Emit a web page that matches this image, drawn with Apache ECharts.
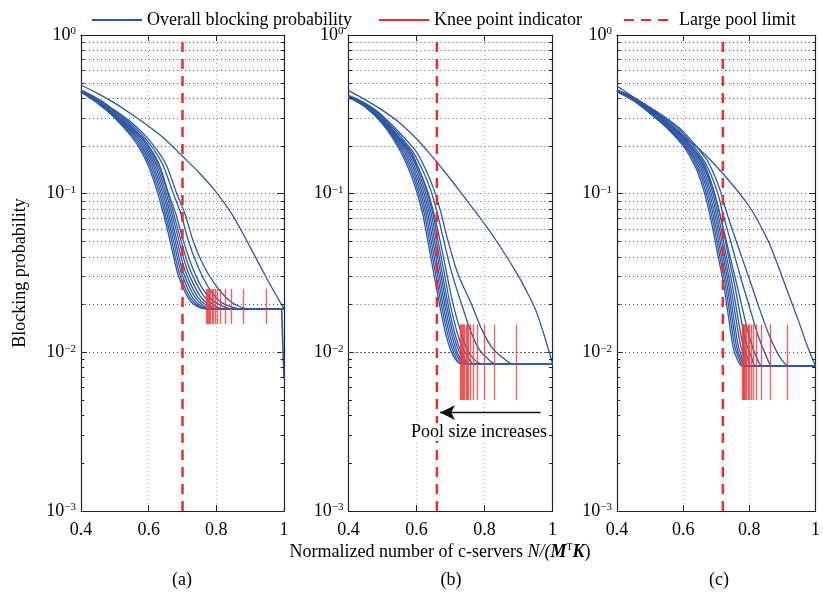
<!DOCTYPE html>
<html><head><meta charset="utf-8">
<script src="https://cdn.jsdelivr.net/npm/echarts@6/dist/echarts.min.js"></script>
<style>html,body{margin:0;padding:0;background:#fff}#c{width:823px;height:599px}</style>
</head><body><div id="c"></div>
<script>
// ---------- DATA ----------
const xTickLabels = ['0.4', '0.6', '0.8', '1'];
const yTickVals = [1, 0.1, 0.01, 0.001];
const yTickExp = ['0', '\u22121', '\u22122', '\u22123'];
const minorGridVals = [0.002,0.003,0.004,0.005,0.006,0.007,0.008,0.009,
  0.02,0.03,0.04,0.05,0.06,0.07,0.08,0.09,
  0.2,0.3,0.4,0.5,0.6,0.7,0.8,0.9];
const panelLabels = ['(a)', '(b)', '(c)'];
const poolLimit = [0.70, 0.66, 0.72];

// panel (a) curves: [x, blocking probability]
const curvesA = [
  [[0.4,0.484],[0.45,0.427],[0.5,0.372],[0.55,0.316],[0.6,0.266],[0.65,0.219],[0.7,0.172],[0.75,0.135],[0.8,0.102],[0.85,0.072],[0.9,0.046],[0.95,0.029],[0.975,0.0233],[1.0,0.0188]],
  [[0.4,0.449],[0.45,0.396],[0.5,0.335],[0.55,0.28],[0.6,0.22],[0.65,0.155],[0.683,0.1],[0.707,0.075],[0.732,0.05],[0.76,0.036],[0.795,0.027],[0.83,0.022],[0.86,0.0198],[0.9,0.0188],[1,0.0188]],
  [[0.4,0.447],[0.45,0.393],[0.5,0.33],[0.55,0.272],[0.6,0.21],[0.64,0.155],[0.673,0.1],[0.695,0.075],[0.718,0.05],[0.745,0.035],[0.775,0.026],[0.81,0.021],[0.84,0.0195],[0.87,0.0188],[1,0.0188]],
  [[0.4,0.445],[0.45,0.39],[0.5,0.325],[0.55,0.265],[0.6,0.2],[0.63,0.155],[0.659,0.1],[0.68,0.075],[0.703,0.05],[0.73,0.034],[0.76,0.025],[0.79,0.0212],[0.82,0.0195],[0.845,0.0188],[1,0.0188]],
  [[0.4,0.443],[0.45,0.382],[0.5,0.318],[0.58,0.228],[0.605,0.19],[0.63,0.148],[0.65,0.112],[0.67,0.08],[0.692,0.054],[0.717,0.0355],[0.738,0.028],[0.762,0.0228],[0.787,0.0203],[0.815,0.0188],[1,0.0188]],
  [[0.4,0.442],[0.45,0.38],[0.5,0.315],[0.575,0.228],[0.6,0.19],[0.625,0.148],[0.645,0.112],[0.665,0.08],[0.686,0.054],[0.71,0.035],[0.73,0.0276],[0.752,0.0226],[0.776,0.0201],[0.802,0.0188],[1,0.0188]],
  [[0.4,0.441],[0.45,0.378],[0.5,0.312],[0.57,0.228],[0.595,0.19],[0.62,0.148],[0.64,0.112],[0.66,0.08],[0.68,0.054],[0.704,0.0345],[0.723,0.0272],[0.745,0.0223],[0.767,0.02],[0.792,0.0188],[1,0.0188]],
  [[0.4,0.44],[0.45,0.376],[0.5,0.309],[0.565,0.228],[0.59,0.19],[0.615,0.148],[0.635,0.112],[0.655,0.08],[0.675,0.054],[0.698,0.034],[0.717,0.0268],[0.738,0.0221],[0.759,0.0199],[0.785,0.0188],[1,0.0188]],
  [[0.4,0.439],[0.45,0.374],[0.5,0.306],[0.56,0.228],[0.585,0.19],[0.61,0.148],[0.63,0.112],[0.65,0.08],[0.67,0.054],[0.693,0.0335],[0.711,0.0265],[0.731,0.0219],[0.752,0.0198],[0.778,0.0188],[1,0.0188]],
  [[0.4,0.438],[0.45,0.372],[0.5,0.303],[0.555,0.228],[0.58,0.19],[0.605,0.148],[0.625,0.112],[0.645,0.08],[0.665,0.054],[0.688,0.033],[0.705,0.0262],[0.725,0.0217],[0.745,0.0197],[0.772,0.0188],[1,0.0188]],
  [[0.4,0.437],[0.45,0.37],[0.5,0.3],[0.55,0.228],[0.575,0.19],[0.6,0.148],[0.62,0.112],[0.64,0.08],[0.66,0.054],[0.683,0.033],[0.7,0.026],[0.72,0.0215],[0.74,0.0196],[0.767,0.0188],[1,0.0188]]
];
const dropA = [[0.993,0.0188],[1.0,0.0068]];

// panel (b) curves
const curvesB = [
  [[0.4,0.446],[0.45,0.39],[0.5,0.335],[0.55,0.28],[0.6,0.222],[0.63,0.188],[0.68,0.14],[0.733,0.1],[0.8,0.0646],[0.845,0.0468],[0.9,0.0302],[0.925,0.024],[0.95,0.0186],[0.975,0.0129],[1.0,0.0085]],
  [[0.4,0.417],[0.45,0.371],[0.5,0.31],[0.596,0.188],[0.625,0.145],[0.65,0.108],[0.671,0.077],[0.691,0.052],[0.72,0.032],[0.762,0.02],[0.795,0.0135],[0.825,0.0105],[0.855,0.0092],[0.88,0.0085],[1,0.0085]],
  [[0.4,0.415],[0.45,0.368],[0.5,0.305],[0.586,0.188],[0.615,0.145],[0.64,0.108],[0.66,0.077],[0.679,0.052],[0.703,0.032],[0.733,0.02],[0.76,0.0135],[0.785,0.0104],[0.81,0.0091],[0.83,0.0085],[1,0.0085]],
  [[0.4,0.413],[0.45,0.365],[0.5,0.3],[0.576,0.188],[0.605,0.145],[0.63,0.108],[0.65,0.077],[0.668,0.052],[0.688,0.032],[0.708,0.02],[0.73,0.0135],[0.75,0.0103],[0.77,0.009],[0.79,0.0085],[1,0.0085]],
  [[0.4,0.411],[0.45,0.362],[0.5,0.293],[0.581,0.188],[0.61,0.138],[0.63,0.104],[0.648,0.075],[0.662,0.052],[0.68,0.033],[0.698,0.0205],[0.716,0.0142],[0.732,0.0111],[0.748,0.0096],[0.767,0.0085],[1,0.0085]],
  [[0.4,0.41],[0.45,0.36],[0.5,0.29],[0.576,0.188],[0.605,0.138],[0.625,0.104],[0.643,0.075],[0.657,0.052],[0.674,0.033],[0.692,0.0205],[0.709,0.0141],[0.724,0.011],[0.738,0.0095],[0.753,0.0085],[1,0.0085]],
  [[0.4,0.409],[0.45,0.358],[0.5,0.287],[0.571,0.188],[0.6,0.138],[0.62,0.104],[0.638,0.075],[0.652,0.052],[0.669,0.033],[0.687,0.0205],[0.704,0.014],[0.719,0.0109],[0.733,0.0094],[0.748,0.0085],[1,0.0085]],
  [[0.4,0.408],[0.45,0.356],[0.5,0.284],[0.566,0.188],[0.595,0.138],[0.615,0.104],[0.633,0.075],[0.647,0.052],[0.664,0.033],[0.682,0.0205],[0.699,0.0139],[0.714,0.0108],[0.727,0.0093],[0.741,0.0085],[1,0.0085]],
  [[0.4,0.407],[0.45,0.354],[0.5,0.281],[0.561,0.188],[0.59,0.138],[0.61,0.104],[0.628,0.075],[0.642,0.052],[0.659,0.033],[0.677,0.0205],[0.694,0.0138],[0.709,0.0107],[0.722,0.0093],[0.737,0.0085],[1,0.0085]],
  [[0.4,0.406],[0.45,0.352],[0.5,0.278],[0.556,0.188],[0.585,0.138],[0.605,0.104],[0.623,0.075],[0.637,0.052],[0.654,0.033],[0.672,0.0205],[0.689,0.0137],[0.704,0.0106],[0.717,0.0092],[0.731,0.0085],[1,0.0085]],
  [[0.4,0.405],[0.45,0.35],[0.5,0.275],[0.551,0.188],[0.58,0.138],[0.6,0.104],[0.618,0.075],[0.632,0.052],[0.649,0.033],[0.667,0.0205],[0.684,0.0136],[0.699,0.0105],[0.712,0.0092],[0.728,0.0085],[1,0.0085]]
];

// panel (c) curves
const curvesC = [
  [[0.4,0.477],[0.45,0.405],[0.5,0.337],[0.55,0.28],[0.6,0.23],[0.65,0.19],[0.72,0.134],[0.8,0.083],[0.85,0.054],[0.869,0.044],[0.913,0.025],[0.95,0.0155],[0.975,0.011],[1.0,0.0082]],
  [[0.4,0.451],[0.45,0.405],[0.5,0.35],[0.55,0.299],[0.6,0.247],[0.67,0.165],[0.695,0.13],[0.715,0.1],[0.735,0.072],[0.77,0.044],[0.8,0.029],[0.83,0.019],[0.86,0.0128],[0.89,0.0095],[0.92,0.0082],[1,0.0082]],
  [[0.4,0.449],[0.45,0.402],[0.5,0.346],[0.55,0.293],[0.6,0.24],[0.66,0.165],[0.685,0.13],[0.705,0.1],[0.72,0.075],[0.751,0.044],[0.775,0.029],[0.8,0.0195],[0.825,0.013],[0.85,0.0096],[0.87,0.0082],[1,0.0082]],
  [[0.4,0.447],[0.45,0.399],[0.5,0.341],[0.55,0.287],[0.6,0.232],[0.65,0.165],[0.675,0.13],[0.695,0.1],[0.72,0.062],[0.737,0.044],[0.76,0.028],[0.78,0.0185],[0.8,0.0125],[0.82,0.0095],[0.84,0.0082],[1,0.0082]],
  [[0.4,0.446],[0.45,0.397],[0.5,0.338],[0.55,0.284],[0.6,0.23],[0.655,0.165],[0.675,0.135],[0.695,0.1],[0.716,0.067],[0.733,0.044],[0.755,0.027],[0.772,0.0174],[0.79,0.0115],[0.806,0.0094],[0.82,0.0082],[1,0.0082]],
  [[0.4,0.445],[0.45,0.395],[0.5,0.335],[0.55,0.28],[0.6,0.225],[0.65,0.165],[0.67,0.135],[0.69,0.1],[0.71,0.067],[0.727,0.044],[0.748,0.027],[0.764,0.0172],[0.78,0.0113],[0.794,0.0093],[0.805,0.0082],[1,0.0082]],
  [[0.4,0.444],[0.45,0.393],[0.5,0.332],[0.55,0.276],[0.6,0.22],[0.645,0.165],[0.665,0.135],[0.685,0.1],[0.705,0.067],[0.722,0.044],[0.742,0.027],[0.758,0.0171],[0.773,0.0112],[0.786,0.0092],[0.796,0.0082],[1,0.0082]],
  [[0.4,0.443],[0.45,0.391],[0.5,0.329],[0.55,0.272],[0.6,0.215],[0.64,0.165],[0.66,0.135],[0.68,0.1],[0.7,0.067],[0.717,0.044],[0.737,0.027],[0.752,0.017],[0.766,0.0111],[0.779,0.0091],[0.789,0.0082],[1,0.0082]],
  [[0.4,0.442],[0.45,0.389],[0.5,0.326],[0.55,0.268],[0.6,0.21],[0.635,0.165],[0.655,0.135],[0.675,0.1],[0.695,0.067],[0.712,0.044],[0.732,0.027],[0.747,0.0169],[0.761,0.011],[0.775,0.009],[0.786,0.0082],[1,0.0082]],
  [[0.4,0.441],[0.45,0.387],[0.5,0.323],[0.55,0.264],[0.6,0.205],[0.63,0.165],[0.65,0.135],[0.67,0.1],[0.69,0.067],[0.707,0.044],[0.727,0.027],[0.742,0.0168],[0.756,0.0109],[0.77,0.009],[0.781,0.0082],[1,0.0082]],
  [[0.4,0.44],[0.45,0.385],[0.5,0.32],[0.55,0.26],[0.6,0.2],[0.625,0.165],[0.645,0.135],[0.665,0.1],[0.685,0.067],[0.702,0.044],[0.722,0.027],[0.737,0.0167],[0.751,0.0108],[0.765,0.0089],[0.778,0.0082],[1,0.0082]]
];

// knee point indicators: x positions and vertical extent
const kneeXA = [0.769,0.772,0.775,0.778,0.782,0.787,0.792,0.798,0.804,0.812,0.826,0.845,0.879,0.947];
const kneeXB = [0.728,0.731,0.734,0.737,0.741,0.745,0.748,0.753,0.759,0.767,0.779,0.799,0.828,0.892];
const kneeXC = [0.778,0.781,0.783,0.786,0.789,0.792,0.796,0.800,0.805,0.811,0.820,0.836,0.864,0.915];
const kneeRangeA = [0.0151, 0.0251];
const kneeRangeB = [0.005, 0.015];
const kneeRangeC = [0.005, 0.015];

// arrow in panel (b)
const arrowB = { from: [0.965, 0.00417], to: [0.669, 0.00417] };

// ---------- CHART ----------
const FONT = 'Liberation Serif';
const BLUE = '#2b58a6';
const RED = '#ee2a2a';
const N_BLUE = 'Overall blocking probability';
const N_KNEE = 'Knee point indicator';
const N_POOL = 'Large pool limit';

const grids = [
  { left: 81, top: 35, width: 203, height: 476 },
  { left: 348.5, top: 35, width: 204, height: 476 },
  { left: 617, top: 35, width: 204, height: 476 }
];
const allCurves = [curvesA, curvesB, curvesC];
const kneeXs = [kneeXA, kneeXB, kneeXC];
const kneeRanges = [kneeRangeA, kneeRangeB, kneeRangeC];

const xAxes = [], yAxes = [], series = [];
for (let p = 0; p < 3; p++) {
  xAxes.push({
    type: 'value', gridIndex: p, min: 0.4, max: 1, interval: 0.2,
    axisLine: { show: true, lineStyle: { color: '#222', width: 1.2 } },
    axisTick: { show: true, inside: true, length: 6, lineStyle: { color: '#222' } },
    axisLabel: {
      color: '#000', fontFamily: FONT, fontSize: 18, margin: 10,
      formatter: v => xTickLabels[Math.round((v - 0.4) / 0.2)]
    },
    splitLine: { show: true, lineStyle: { color: '#b0b0b0', type: [1, 3], width: 1 } }
  });
  yAxes.push({
    type: 'log', gridIndex: p, min: 0.001, max: 1, logBase: 10,
    axisLine: { show: true, lineStyle: { color: '#222', width: 1.2 } },
    axisTick: { show: true, inside: true, length: 6, lineStyle: { color: '#222' } },
    axisLabel: {
      color: '#000', fontFamily: FONT, margin: 5,
      formatter: v => {
        const i = yTickVals.findIndex(t => Math.abs(t - v) / t < 1e-6);
        return '{b|10}{s|' + (i >= 0 ? yTickExp[i] : '') + '}';
      },
      rich: {
        b: { fontFamily: FONT, fontSize: 18, lineHeight: 18, color: '#000' },
        s: { fontFamily: FONT, fontSize: 11, lineHeight: 11, verticalAlign: 'top', color: '#000' }
      }
    },
    splitLine: { show: true, lineStyle: { color: '#555', type: [1, 3], width: 1 } }
  });
}
for (let p = 0; p < 3; p++) {
  xAxes.push({
    type: 'value', gridIndex: p, min: 0.4, max: 1, interval: 0.2, position: 'top',
    axisLine: { show: true, onZero: false, lineStyle: { color: '#222', width: 1.2 } },
    axisTick: { show: true, inside: true, length: 6, lineStyle: { color: '#222' } },
    axisLabel: { show: false }, splitLine: { show: false }
  });
  yAxes.push({
    type: 'log', gridIndex: p, min: 0.001, max: 1, logBase: 10, position: 'right',
    axisLine: { show: true, onZero: false, lineStyle: { color: '#222', width: 1.2 } },
    axisTick: { show: true, inside: true, length: 6, lineStyle: { color: '#222' } },
    axisLabel: { show: false }, splitLine: { show: false }
  });
}

for (let p = 0; p < 3; p++) {
  const minorTicks = [];
  minorGridVals.forEach(v => {
    minorTicks.push([{ coord: [0.4, v] }, { coord: [0.41, v] }]);
    minorTicks.push([{ coord: [0.99, v] }, { coord: [1.0, v] }]);
  });
  series.push({
    type: 'line', xAxisIndex: p, yAxisIndex: p, data: [], silent: true, z: 1,
    markLine: {
      silent: true, symbol: ['none', 'none'], label: { show: false }, animation: false,
      lineStyle: { color: '#555', type: [1, 3], width: 1 },
      data: minorGridVals.map(v => ({ yAxis: v }))
    }
  });
  series.push({
    type: 'line', xAxisIndex: p, yAxisIndex: p, data: [], silent: true, z: 2,
    markLine: {
      silent: true, symbol: ['none', 'none'], label: { show: false }, animation: false,
      lineStyle: { color: '#222', type: 'solid', width: 1 },
      data: minorTicks
    }
  });
  allCurves[p].forEach(c => {
    series.push({
      type: 'line', name: N_BLUE, xAxisIndex: p, yAxisIndex: p, data: c,
      symbol: 'none', smooth: 0.3, silent: true, animation: false, z: 3,
      lineStyle: { color: BLUE, width: 1.3 }, itemStyle: { color: BLUE }
    });
  });
  if (p === 0) {
    series.push({
      type: 'line', name: N_BLUE, xAxisIndex: 0, yAxisIndex: 0, data: dropA,
      symbol: 'none', silent: true, animation: false, z: 3,
      lineStyle: { color: BLUE, width: 1.6 }, itemStyle: { color: BLUE }
    });
  }
  const kr = kneeRanges[p];
  series.push({
    type: 'line', name: N_KNEE, xAxisIndex: p, yAxisIndex: p, data: [],
    symbol: 'none', silent: true, animation: false, z: 4,
    lineStyle: { color: RED, width: 1.3 }, itemStyle: { color: RED },
    markLine: {
      silent: true, symbol: ['none', 'none'], label: { show: false }, animation: false,
      lineStyle: { color: '#f03a3a', type: 'solid', width: 1.4, opacity: 0.8 },
      data: kneeXs[p].map(x => [{ coord: [x, kr[0]] }, { coord: [x, kr[1]] }])
    }
  });
  series.push({
    type: 'line', name: N_POOL, xAxisIndex: p, yAxisIndex: p,
    data: [[poolLimit[p], 0.001], [poolLimit[p], 1]],
    symbol: 'none', silent: true, animation: false, z: 5,
    lineStyle: { color: RED, width: 2.5, type: [10, 7] }, itemStyle: { color: RED }
  });
}
series.push({
  type: 'line', xAxisIndex: 1, yAxisIndex: 1, data: [], silent: true, z: 6,
  markLine: {
    silent: true, symbol: ['none', 'arrow'], symbolSize: [11, 15], label: { show: false }, animation: false,
    lineStyle: { color: '#111', type: 'solid', width: 1.4 },
    data: [[{ coord: arrowB.from }, { coord: arrowB.to }]]
  }
});

const legendBase = {
  top: 6, itemWidth: 50, itemHeight: 16, selectedMode: false,
  itemStyle: { opacity: 0 },
  textStyle: { fontFamily: FONT, fontSize: 18, color: '#000' }
};
const option = {
  backgroundColor: '#fff',
  animation: false,
  grid: grids,
  xAxis: xAxes,
  yAxis: yAxes,
  legend: [
    Object.assign({ data: [N_BLUE], left: 86 }, legendBase),
    Object.assign({ data: [N_KNEE], left: 373 }, legendBase),
    Object.assign({ data: [N_POOL], left: 618 }, legendBase)
  ],
  series: series,
  graphic: [
    { type: 'text', x: 20, y: 273, rotation: Math.PI / 2,
      style: { text: 'Blocking probability', font: '18px "Liberation Serif"', fill: '#000', align: 'center', verticalAlign: 'middle' } },
    { type: 'text', x: 440, y: 552,
      style: {
        text: '{r|Normalized number of c-servers }{i|N/(}{bi|M}{sup|T}{bi|K}{r|)}',
        align: 'center', verticalAlign: 'middle',
        rich: {
          r: { fontFamily: FONT, fontSize: 18, lineHeight: 20, fill: '#000' },
          i: { fontFamily: FONT, fontSize: 18, fontStyle: 'italic', lineHeight: 20, fill: '#000' },
          bi: { fontFamily: FONT, fontSize: 18, fontStyle: 'italic', fontWeight: 'bold', lineHeight: 20, fill: '#000' },
          sup: { fontFamily: FONT, fontSize: 10, lineHeight: 10, verticalAlign: 'top', fill: '#000' }
        }
      } },
    { type: 'text', x: 182, y: 580, style: { text: panelLabels[0], font: '18px "Liberation Serif"', fill: '#000', align: 'center', verticalAlign: 'middle' } },
    { type: 'text', x: 451, y: 580, style: { text: panelLabels[1], font: '18px "Liberation Serif"', fill: '#000', align: 'center', verticalAlign: 'middle' } },
    { type: 'text', x: 719, y: 580, style: { text: panelLabels[2], font: '18px "Liberation Serif"', fill: '#000', align: 'center', verticalAlign: 'middle' } },
    { type: 'text', x: 479, y: 432, z: 10, style: { text: 'Pool size increases', font: '18px "Liberation Serif"', fill: '#000', align: 'center', verticalAlign: 'middle', backgroundColor: 'rgba(255,255,255,0.9)' } }
  ]
};
const chart = echarts.init(document.getElementById('c'), null, { renderer: 'canvas' });
chart.setOption(option);
</script>
</body></html>
